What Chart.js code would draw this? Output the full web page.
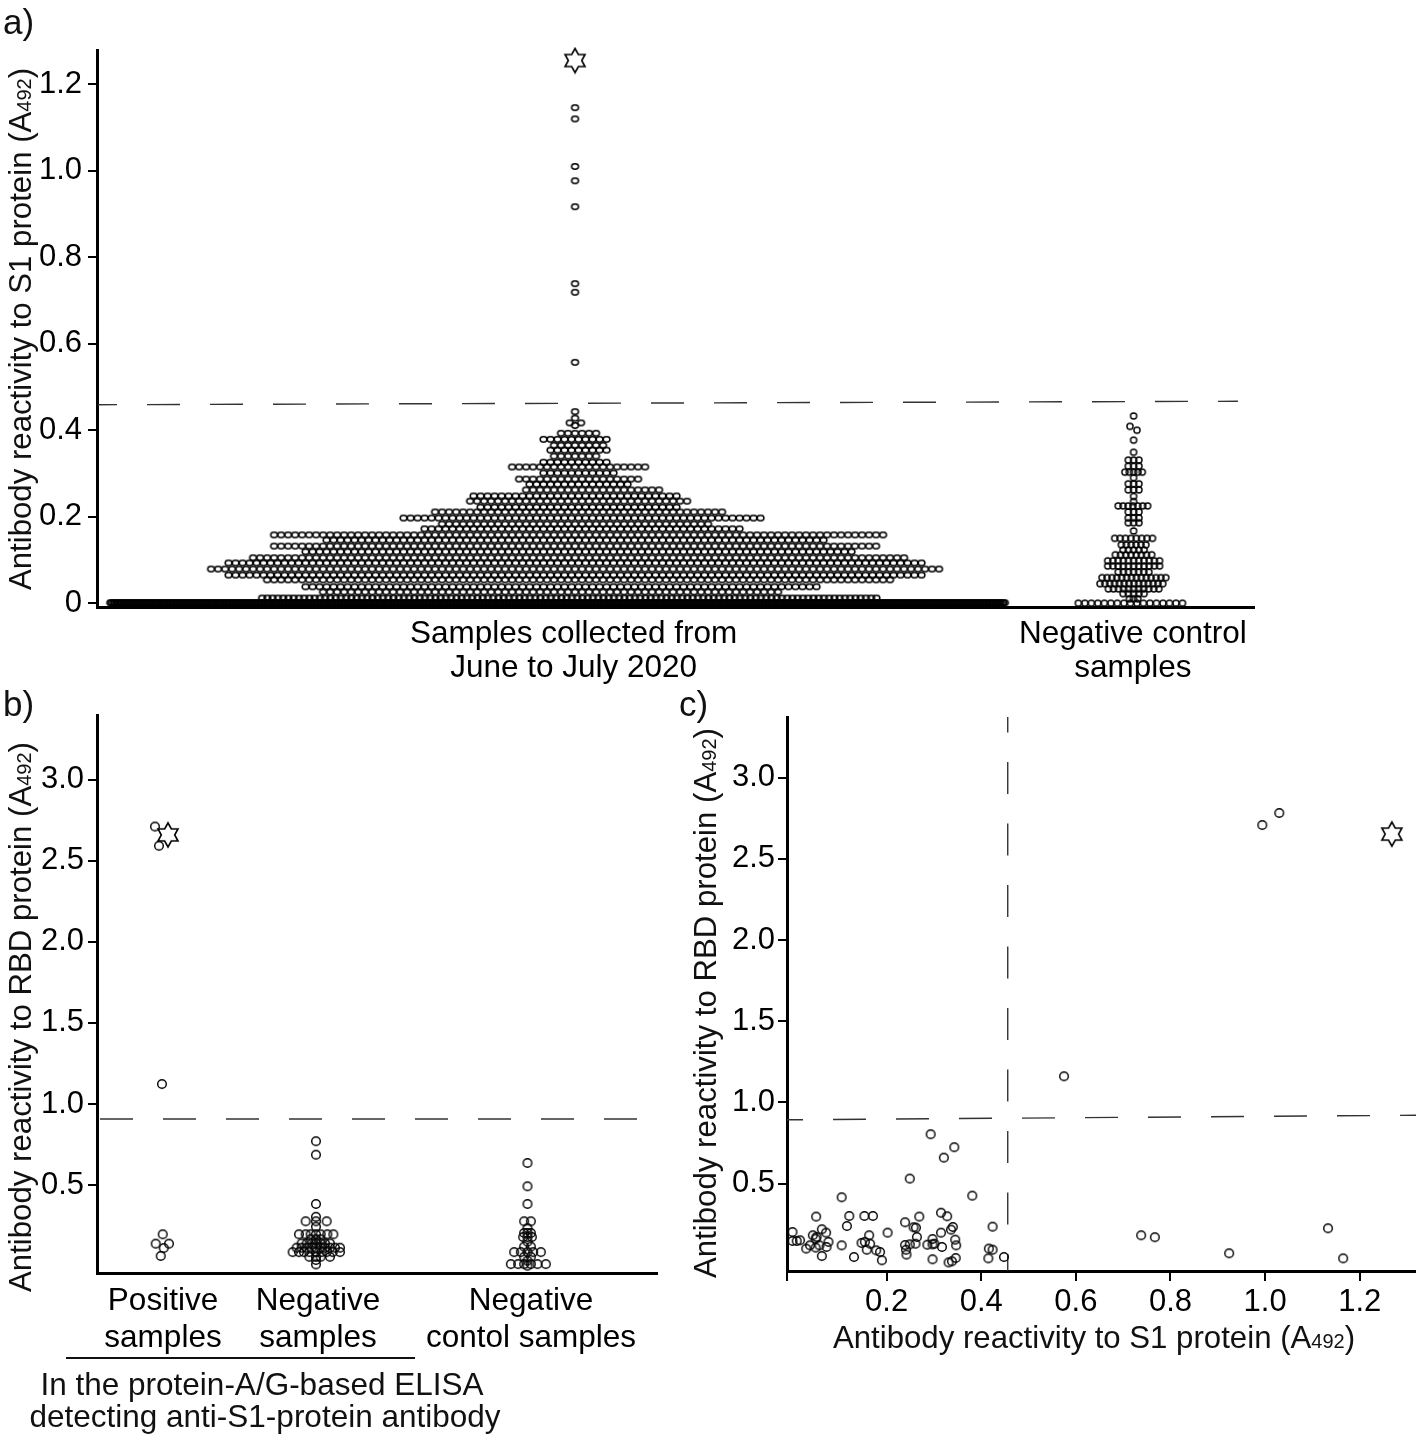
<!DOCTYPE html>
<html>
<head>
<meta charset="utf-8">
<style>
  html, body { margin: 0; padding: 0; background: #fff; }
  #page { position: relative; width: 1416px; height: 1436px; overflow: hidden; font-family: "Liberation Sans", Arial, sans-serif; color: #111; }
  canvas { position: absolute; }
  .txt { position: absolute; font-size: 31.5px; line-height: 34px; white-space: nowrap; }
  .tag { font-size: 35px; }
  .ytitle { font-size: 31.2px; transform: translate(-50%, -50%) rotate(-90deg); }
  .ctr { transform: translateX(-50%); text-align: center; }
  .xtitle { font-size: 31.2px; }
  .txt small { font-size: 20px; }
  #rule { position: absolute; left: 66px; top: 1357px; width: 349px; height: 2px; background: #111; }
</style>
<script src="https://cdn.jsdelivr.net/npm/chart.js@4"></script>
</head>
<body>
<div id="page">
  <canvas id="chartA" width="1416" height="700" style="left:0;top:0"></canvas>
  <canvas id="chartB" width="680" height="776" style="left:0;top:660px"></canvas>
  <canvas id="chartC" width="736" height="776" style="left:680px;top:660px"></canvas>

  <div class="txt tag" style="left:3px;top:5px">a)</div>
  <div class="txt tag" style="left:3px;top:687px">b)</div>
  <div class="txt tag" style="left:679px;top:687px">c)</div>

  <div class="txt ytitle" style="left:22px;top:329px">Antibody reactivity to S1 protein (A<small>492</small>)</div>
  <div class="txt ytitle" style="left:22px;top:1017px">Antibody reactivity to RBD protein (A<small>492</small>)</div>
  <div class="txt ytitle" style="left:707px;top:1003px">Antibody reactivity to RBD protein (A<small>492</small>)</div>
  <div class="txt ctr xtitle" style="left:1094px;top:1321px">Antibody reactivity to S1 protein (A<small>492</small>)</div>

  <div id="rule"></div>
  <div class="txt ctr" style="left:262px;top:1367px">In the protein-A/G-based ELISA</div>
  <div class="txt ctr" style="left:265px;top:1399px">detecting anti-S1-protein antibody</div>
</div>

<script>
// a) main swarm, one entry per row of dots (left/right = reach from the group centre, in dot widths)
var aRowValues = [0.001, 0.012, 0.026, 0.038, 0.054, 0.065, 0.079, 0.093, 0.105, 0.119, 0.132, 0.146, 0.158, 0.172, 0.183, 0.197, 0.211, 0.222, 0.236, 0.248, 0.262, 0.275, 0.287, 0.301, 0.315, 0.326, 0.340, 0.354, 0.365, 0.379, 0.393];
var aRowLeft = [66.4, 44.7, 36, 38.5, 44, 49.5, 52, 49.5, 46, 38.5, 43, 35.5, 43, 21.5, 19, 24.5, 20, 13.5, 15, 14.5, 7, 6.5, 8, 4.5, 9, 4.5, 3, 3.5, 3, 4.5, 2];
var aRowRight = [61.4, 43.1, 29, 34.5, 45, 49.5, 52, 49.5, 47, 39.5, 43, 35.5, 44, 23.5, 19, 26.5, 21, 14.5, 16, 14.5, 12, 7.5, 9, 5.5, 10, 4.5, 3, 4.5, 4, 4.5, 3];
var aRowPitch = [0.2, 0.75, 1, 1, 1, 1, 1, 1, 1, 1, 1, 1, 1, 1, 1, 1, 1, 1, 1, 1, 1, 1, 1, 1, 1, 1, 1, 1, 1, 1, 1];
var aTopValues = [0.411, 0.417, 0.417, 0.428, 0.443, 0.557, 0.719, 0.739, 0.917, 0.977, 1.010, 1.120, 1.146];
var aTopOffsets = [0, -0.75, 0.85, 0, 0, 0, 0, 0, 0, 0, 0, 0, 0];
var aStarValue = [1.255];

// a) negative controls
var negRowValues = [0.331, 0.317, 0.303, 0.276, 0.262, 0.225, 0.211, 0.197, 0.186, 0.150, 0.135, 0.123, 0.112, 0.098, 0.086, 0.072, 0.059, 0.045, 0.033, 0.022, 0.010, 0.0];
var negRowLeft = [0.76, 0.76, 1.24, 0.76, 0.76, 2.2, 0.76, 0.76, 0.76, 2.7, 1.75, 1.5, 2.6, 3.7, 3.7, 2.2, 4.5, 4.8, 3.6, 1.5, 0.6, 7.9];
var negRowRight = [0.76, 0.76, 1.24, 0.76, 0.76, 2.0, 0.76, 0.76, 0.76, 2.7, 1.75, 1.5, 2.6, 3.7, 3.7, 2.2, 4.6, 4.8, 3.6, 1.5, 0.6, 7.9];
var negRowPitch = [0.76, 0.76, 0.62, 0.76, 0.76, 0.7, 0.76, 0.76, 0.76, 0.77, 0.7, 0.75, 0.74, 0.74, 0.74, 0.73, 0.7, 0.69, 0.72, 0.75, 0.6, 0.93];
var negTopValues = [0.433, 0.409, 0.400, 0.377, 0.349, 0.290, 0.247, 0.235, 0.167];
var negTopOffsets = [0, -0.52, 0.48, 0, 0, 0, 0, 0, 0];

var aCategories = [['Samples collected from', 'June to July 2020'], ['Negative control', 'samples']];
var aCategoryX = [68.1, 148];
var aGroupCentres = [68.3, 148.1];
var aYTicks = [0, 0.2, 0.4, 0.6, 0.8, 1.0, 1.2];
var aCutoffValues = [0.459, 0.467];

// b) offsets from each group's centre
var bPosValues = [2.712, 2.593, 1.123, 0.196, 0.138, 0.138, 0.111, 0.062];
var bPosOffsets = [-1.4, -0.6, 0, 0.14, -1.26, 1.4, 0.34, -0.26];
var bStarValue = [2.66];
var bStarOffset = [1.2];
var bNegValues = [0.77, 0.687, 0.383, 0.304, 0.276, 0.276, 0.276, 0.243, 0.196, 0.196, 0.196, 0.196, 0.196, 0.196, 0.196, 0.165, 0.165, 0.165, 0.14, 0.14, 0.14, 0.14, 0.14, 0.14, 0.14, 0.113, 0.113, 0.113, 0.113, 0.113, 0.113, 0.113, 0.113, 0.113, 0.113, 0.086, 0.086, 0.086, 0.086, 0.086, 0.086, 0.086, 0.086, 0.086, 0.057, 0.057, 0.057, 0.057, 0.037, 0.01];
var bNegOffsets = [0, 0, 0, 0, -2.07, 0, 2.13, 0, -3.4, -2.07, -1.07, 0, 0.93, 2.27, 3.47, -1.07, 0, 0.93, -2.87, -1.87, -0.87, 0, 0.93, 1.8, 2.8, -3.87, -2.87, -1.87, -0.87, 0, 0.93, 1.8, 2.8, 3.8, 4.8, -4.67, -3.4, -2.4, -1.33, 0, 1.13, 2.13, 3.33, 4.8, -1.33, 0, 0.93, 2.8, 0, 0];
var bCtrlValues = [0.636, 0.492, 0.383, 0.276, 0.276, 0.234, 0.204, 0.204, 0.204, 0.179, 0.179, 0.179, 0.15, 0.12, 0.12, 0.086, 0.086, 0.086, 0.086, 0.086, 0.057, 0.057, 0.033, 0.012, 0.012, 0.012, 0.012, 0.012, 0.012, 0.002];
var bCtrlOffsets = [0, 0, 0, -0.67, 0.67, 0, -0.67, 0, 0.67, -0.87, 0, 0.87, 0, -0.67, 0.67, -2.67, -1.33, 0, 1.13, 2.67, -0.67, 0.67, 0, -3.33, -1.87, -0.67, 0.67, 2, 3.67, 0];
var bGroupCentres = [13, 43.8, 86.1];
var bCategories = [['Positive', 'samples'], ['Negative', 'samples'], ['Negative', 'contol samples']];
var bCategoryX = [13.2, 44.2, 86.8];
var bYTicks = [0.5, 1.0, 1.5, 2.0, 2.5, 3.0];
var bCutoff = [0.907, 0.907];

// c) S1 reactivity against RBD reactivity
var cS1 = [0.001, 0.001, 0.017, 0.010, 0.051, 0.044, 0.052, 0.063, 0.072, 0.050, 0.038, 0.030, 0.050, 0.058, 0.073, 0.077, 0.063, 0.105, 0.121, 0.116, 0.105, 0.131, 0.153, 0.171, 0.163, 0.147, 0.154, 0.165, 0.158, 0.178, 0.186, 0.190, 0.202, 0.249, 0.239, 0.269, 0.257, 0.262, 0.264, 0.239, 0.249, 0.261, 0.241, 0.242, 0.293, 0.321, 0.343, 0.315, 0.328, 0.381, 0.340, 0.336, 0.315, 0.297, 0.286, 0.301, 0.297, 0.317, 0.345, 0.347, 0.297, 0.346, 0.338, 0.331, 0.424, 0.416, 0.424, 0.415, 0.448, 0.994, 1.030, 0.575, 0.738, 0.767, 0.924, 1.133, 1.165];
var cRBD = [0.202, 0.147, 0.151, 0.147, 0.297, 0.182, 0.171, 0.219, 0.198, 0.161, 0.120, 0.100, 0.106, 0.120, 0.110, 0.141, 0.054, 0.416, 0.301, 0.239, 0.120, 0.048, 0.301, 0.301, 0.182, 0.135, 0.141, 0.130, 0.093, 0.089, 0.079, 0.028, 0.198, 0.531, 0.262, 0.297, 0.231, 0.229, 0.171, 0.122, 0.126, 0.130, 0.093, 0.063, 0.804, 0.660, 0.724, 0.321, 0.299, 0.426, 0.233, 0.217, 0.198, 0.159, 0.124, 0.130, 0.126, 0.110, 0.155, 0.120, 0.034, 0.042, 0.022, 0.015, 0.235, 0.100, 0.093, 0.040, 0.048, 2.708, 2.782, 1.161, 0.182, 0.170, 0.071, 0.225, 0.040];
var cStarX = [1.268];
var cStarY = [2.652];
var cXTicks = [0.2, 0.4, 0.6, 0.8, 1.0, 1.2];
var cYTicks = [0.5, 1.0, 1.5, 2.0, 2.5, 3.0];
var cHorizCutoff = [0.893, 0.921];
var cVertCutoff = [0.456];

var FONT = { family: "'Liberation Sans', Arial, sans-serif", size: 31 };
var INK = '#000';

function ringSprite(w, h, lw) {
  var c = document.createElement('canvas');
  c.width = Math.ceil(w + lw + 2);
  c.height = Math.ceil(h + lw + 2);
  var g = c.getContext('2d');
  g.strokeStyle = INK;
  g.lineWidth = lw;
  g.beginPath();
  g.ellipse(c.width / 2, c.height / 2, w / 2, h / 2, 0, 0, Math.PI * 2);
  g.stroke();
  return c;
}

function starSprite(w, h) {
  var c = document.createElement('canvas');
  c.width = w + 4;
  c.height = h + 4;
  var g = c.getContext('2d');
  g.strokeStyle = INK;
  g.lineWidth = 1.6;
  g.fillStyle = '#fff';
  g.beginPath();
  for (var i = 0; i < 12; i++) {
    var a = Math.PI * i / 6;
    var r = i % 2 ? 0.58 : 1;
    var px = c.width / 2 + Math.sin(a) * r * w / 2 / 0.866;
    var py = c.height / 2 - Math.cos(a) * r * h / 2;
    if (i) g.lineTo(px, py); else g.moveTo(px, py);
  }
  g.closePath();
  g.fill();
  g.stroke();
  return c;
}

var smallRing = ringSprite(6.8, 5.4, 1.5);
var ctrlRing = ringSprite(6.2, 6, 1.4);
var bigRing = ringSprite(8.6, 8.6, 1.4);
var star = starSprite(20, 24);

function expandRows(centre, values, left, right, pitch) {
  var pts = [];
  for (var r = 0; r < values.length; r++) {
    for (var p = -left[r]; p <= right[r] + 0.001; p += pitch[r]) {
      pts.push({ x: centre + p, y: values[r] });
    }
  }
  return pts;
}

function offsetPoints(centre, values, offsets) {
  return values.map(function(v, i) { return { x: centre + offsets[i], y: v }; });
}

function dots(data, sprite) {
  return { data: data, pointStyle: sprite, pointRadius: 4, showLine: false, clip: false };
}

function dashed(data, offset, pattern) {
  return { data: data, showLine: true, pointRadius: 0, borderColor: '#333', borderWidth: 1.4, borderDash: pattern || [33, 30], borderDashOffset: offset, clip: false };
}

function yScale(min, max, ticks, width, padding) {
  return {
    type: 'linear', min: min, max: max,
    afterFit: function(s) { s.width = width; },
    afterBuildTicks: function(s) { s.ticks = ticks.map(function(v) { return { value: v }; }); },
    border: { color: INK, width: 3 },
    grid: { drawOnChartArea: false, drawTicks: true, tickLength: 9, color: INK, lineWidth: 2 },
    ticks: {
      color: INK, font: FONT, padding: padding,
      callback: function(v) { return v === 0 ? '0' : v.toFixed(1); }
    }
  };
}

function groupScale(min, max, positions, labels, height, padding, lineHeight) {
  return {
    type: 'linear', min: min, max: max,
    afterFit: function(s) { s.height = height; },
    afterBuildTicks: function(s) { s.ticks = positions.map(function(v) { return { value: v }; }); },
    border: { color: INK, width: 3 },
    grid: { display: false },
    ticks: {
      color: INK, font: { family: FONT.family, size: 31.5, lineHeight: lineHeight }, padding: padding, maxRotation: 0, minRotation: 0, autoSkip: false,
      callback: function(v, i) { return labels[i]; }
    }
  };
}

function draw(id, datasets, xScale, y, padding) {
  return new Chart(document.getElementById(id), {
    type: 'scatter',
    data: { datasets: datasets },
    options: {
      responsive: false,
      animation: false,
      layout: { padding: padding, autoPadding: false },
      plugins: { legend: { display: false }, tooltip: { enabled: false } },
      scales: { x: xScale, y: y }
    }
  });
}

// panel a
draw('chartA', [
  dots(expandRows(aGroupCentres[0], aRowValues, aRowLeft, aRowRight, aRowPitch), smallRing),
  dots(offsetPoints(aGroupCentres[0], aTopValues, aTopOffsets), smallRing),
  dots(expandRows(aGroupCentres[1], negRowValues, negRowLeft, negRowRight, negRowPitch), ctrlRing),
  dots(offsetPoints(aGroupCentres[1], negTopValues, negTopOffsets), ctrlRing),
  dots([{ x: aGroupCentres[0], y: aStarValue[0] }], star),
  dashed([{ x: 0.14, y: aCutoffValues[0] }, { x: 163, y: aCutoffValues[1] }], 14)
], groupScale(0, 165.3, aCategoryX, aCategories, 93, 2, 1.08), yScale(-0.0088, 1.2794, aYTicks, 97, 6), { top: 50, right: 162 });

// panel b
draw('chartB', [
  dots(offsetPoints(bGroupCentres[0], bPosValues, bPosOffsets), bigRing),
  dots(offsetPoints(bGroupCentres[1], bNegValues, bNegOffsets), bigRing),
  dots(offsetPoints(bGroupCentres[2], bCtrlValues, bCtrlOffsets), bigRing),
  dots(offsetPoints(bGroupCentres[0], bStarValue, bStarOffset), star),
  dashed([{ x: 0.6, y: bCutoff[0] }, { x: 108.2, y: bCutoff[1] }], 0)
], groupScale(0, 112, bCategoryX, bCategories, 163, 1, 1.2), yScale(-0.043, 3.40, bYTicks, 97, 4), { top: 55, right: 23 });

// panel c
var cXScale = {
  type: 'linear', min: -0.0106, max: 1.319,
  afterFit: function(s) { s.height = 165; },
  afterBuildTicks: function(s) { s.ticks = [s.min].concat(cXTicks).map(function(v) { return { value: v }; }); },
  border: { color: INK, width: 3 },
  grid: { drawOnChartArea: false, drawTicks: true, tickLength: 10, color: INK, lineWidth: 2 },
  ticks: {
    color: INK, font: FONT, padding: 3, maxRotation: 0, minRotation: 0, autoSkip: false,
    callback: function(v) { return v < 0 ? '' : v.toFixed(1); }
  }
};
draw('chartC', [
  dots(cS1.map(function(v, i) { return { x: v, y: cRBD[i] }; }), bigRing),
  dots([{ x: cStarX[0], y: cStarY[0] }], star),
  dashed([{ x: -0.0106, y: cHorizCutoff[0] }, { x: 1.319, y: cHorizCutoff[1] }], 17),
  dashed([{ x: cVertCutoff[0], y: -0.038 }, { x: cVertCutoff[0], y: 3.373 }], 15, [32, 29.5])
], cXScale, yScale(-0.038, 3.373, cYTicks, 107, 3), { top: 57 });
</script>
</body>
</html>
